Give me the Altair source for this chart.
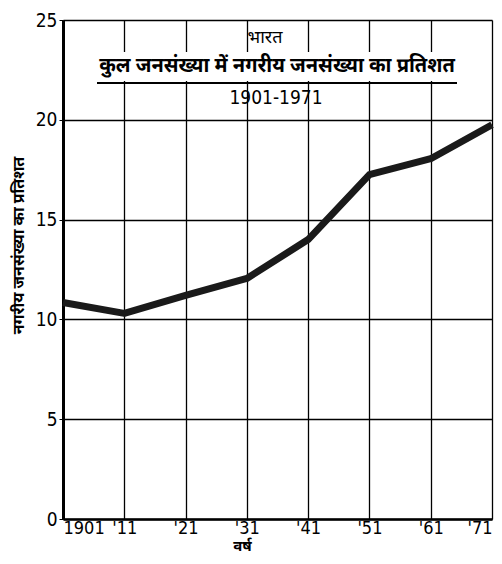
import altair as alt
import pandas as pd

years = [1901, 1911, 1921, 1931, 1941, 1951, 1961, 1971]
pct = [10.85, 10.3, 11.2, 12.05, 14.0, 17.25, 18.05, 19.75]
y_ticks = [0, 5, 10, 15, 20, 25]

title_top = "भारत"
title_main = "कुल जनसंख्या में नगरीय जनसंख्या का प्रतिशत"
title_years = "1901-1971"
y_title = "नगरीय जनसंख्या का प्रतिशत"
x_title = "वर्ष"

df = pd.DataFrame({"year": years, "pct": pct})

FONT = "Noto Sans Devanagari, Noto Sans, DejaVu Sans, sans-serif"
NUM_FONT = "Liberation Sans Narrow, DejaVu Sans Condensed, sans-serif"

x_enc = alt.X(
    "year:Q",
    scale=alt.Scale(domain=[1901, 1971], nice=False, zero=False),
    axis=alt.Axis(
        values=years,
        labelExpr="datum.value == 1901 ? '1901' : \"'\" + substring(toString(datum.value), 2, 4)",
        title=x_title,
        titleX=179,
        titleY=26,
        titleBaseline="middle",
        titleFontSize=15,
        titleFontWeight="bold",
        titleFont=FONT,
        labelFont=NUM_FONT,
        labelFontSize=18,
        labelColor="black",
        labelPadding=0,
        ticks=False,
        grid=True,
        gridColor="black",
        gridWidth=1.3,
        gridOpacity=1,
        domainColor="black",
        domainWidth=2.5,
    ),
)
y_enc = alt.Y(
    "pct:Q",
    scale=alt.Scale(domain=[0, 25], nice=False),
    axis=alt.Axis(
        values=y_ticks,
        title=y_title,
        titleX=-45,
        titleY=225,
        titleBaseline="middle",
        titleFontSize=16,
        titleFontWeight="bold",
        titleFont=FONT,
        labelFont=NUM_FONT,
        labelFontSize=19,
        labelColor="black",
        ticks=True,
        tickSize=4,
        tickColor="black",
        labelPadding=2,
        grid=True,
        gridColor="black",
        gridWidth=1.3,
        gridOpacity=1,
        domainColor="black",
        domainWidth=3,
    ),
)

base = alt.Chart(df)

line = base.mark_line(color="#1a1a1a", strokeWidth=7, strokeJoin="round").encode(x=x_enc, y=y_enc)

mask = base.mark_rect(color="white").encode(
    x=alt.value(3), x2=alt.value(427), y=alt.value(32), y2=alt.value(61)
)

underline = base.mark_rule(color="black", strokeWidth=1.8).encode(
    x=alt.value(34), x2=alt.value(394), y=alt.value(63)
)

t1 = alt.Chart(pd.DataFrame({"t": [title_top]})).mark_text(
    font=FONT, fontSize=18, color="black", align="center", baseline="middle"
).encode(x=alt.value(202), y=alt.value(18), text="t:N")
t2 = alt.Chart(pd.DataFrame({"t": [title_main]})).mark_text(
    font=FONT, fontSize=20, fontWeight="bold", color="black", align="center", baseline="middle"
).encode(x=alt.value(214), y=alt.value(46), text="t:N")
t3 = alt.Chart(pd.DataFrame({"t": [title_years]})).mark_text(
    font=NUM_FONT, fontSize=19, color="black", align="center", baseline="middle"
).encode(x=alt.value(213), y=alt.value(78), text="t:N")

chart = (
    alt.layer(mask, line, underline, t1, t2, t3)
    .properties(
        width=429,
        height=499,
        autosize=alt.AutoSizeParams(type="none"),
        padding={"left": 55, "top": 12, "right": 2, "bottom": 37},
    )
    .configure_view(stroke="black", strokeWidth=2.5)
    .configure(background="white")
)

chart.save("out.html", embed_options={"renderer": "svg", "actions": False})
